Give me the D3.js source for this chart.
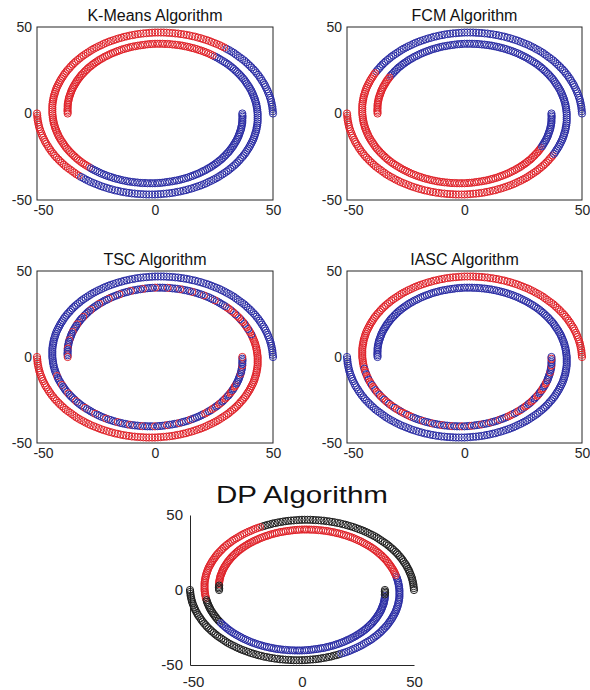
<!DOCTYPE html>
<html>
<head>
<meta charset="utf-8">
<script src="https://cdn.jsdelivr.net/npm/d3@7"></script>
<style>
  body { margin: 0; background: #fff; }
  text { font-family: "Liberation Sans", Arial, sans-serif; }
</style>
</head>
<body>
<svg id="fig" width="590" height="690"></svg>
<script>
// outer spiral starting at (50,0), turning counter-clockwise into the hook at (37,0)
const spiral1X = [
  50.0, 49.9, 49.8, 49.7, 49.5, 49.3, 49.1, 48.8, 48.5, 48.1, 47.8, 47.4, 46.9, 46.5, 46.0, 45.4, 44.9, 44.3, 43.7, 43.0,
  42.4, 41.7, 40.9, 40.2, 39.4, 38.6, 37.8, 36.9, 36.0, 35.1, 34.2, 33.3, 32.3, 31.3, 30.3, 29.3, 28.2, 27.2, 26.1, 25.0,
  23.9, 22.8, 21.7, 20.5, 19.4, 18.2, 17.0, 15.8, 14.6, 13.4, 12.2, 11.0, 9.8, 8.6, 7.4, 6.1, 4.9, 3.7, 2.5, 1.2, 0.0,
  -1.2, -2.4, -3.7, -4.9, -6.1, -7.3, -8.5, -9.6, -10.8, -12.0, -13.1, -14.2, -15.4, -16.5, -17.6, -18.7, -19.7, -20.8, -21.8, -22.8,
  -23.8, -24.8, -25.8, -26.7, -27.6, -28.5, -29.4, -30.3, -31.1, -31.9, -32.7, -33.5, -34.2, -34.9, -35.6, -36.2, -36.9, -37.5, -38.1, -38.6,
  -39.1, -39.6, -40.1, -40.5, -40.9, -41.3, -41.7, -42.0, -42.3, -42.5, -42.8, -43.0, -43.1, -43.3, -43.4, -43.5, -43.5, -43.5, -43.5, -43.5,
  -43.4, -43.3, -43.2, -43.0, -42.9, -42.6, -42.4, -42.1, -41.8, -41.5, -41.1, -40.8, -40.3, -39.9, -39.4, -38.9, -38.4, -37.9, -37.3, -36.7,
  -36.1, -35.5, -34.8, -34.1, -33.4, -32.7, -32.0, -31.2, -30.4, -29.6, -28.8, -27.9, -27.1, -26.2, -25.3, -24.4, -23.5, -22.6, -21.6, -20.7,
  -19.7, -18.7, -17.7, -16.7, -15.7, -14.7, -13.7, -12.6, -11.6, -10.6, -9.5, -8.5, -7.4, -6.3, -5.3, -4.2, -3.2, -2.1, -1.1, 0.0,
  1.1, 2.1, 3.1, 4.2, 5.2, 6.2, 7.3, 8.3, 9.3, 10.3, 11.3, 12.2, 13.2, 14.2, 15.1, 16.0, 16.9, 17.8, 18.7, 19.6,
  20.4, 21.3, 22.1, 22.9, 23.7, 24.4, 25.2, 25.9, 26.6, 27.3, 28.0, 28.6, 29.2, 29.8, 30.4, 31.0, 31.5, 32.0, 32.5, 33.0,
  33.4, 33.8, 34.2, 34.6, 34.9, 35.3, 35.5, 35.8, 36.0, 36.3, 36.5, 36.6, 36.8, 36.9, 37.0, 37.0, 37.0, 37.1, 37.0, 37.0
];
const spiral1Y = [
  0.0, 1.3, 2.6, 3.9, 5.2, 6.5, 7.8, 9.0, 10.3, 11.6, 12.8, 14.0, 15.3, 16.5, 17.6, 18.8, 20.0, 21.1, 22.3, 23.4,
  24.5, 25.5, 26.6, 27.6, 28.6, 29.6, 30.6, 31.5, 32.4, 33.3, 34.2, 35.1, 35.9, 36.7, 37.4, 38.2, 38.9, 39.6, 40.2, 40.8,
  41.4, 42.0, 42.5, 43.0, 43.5, 43.9, 44.4, 44.7, 45.1, 45.4, 45.7, 45.9, 46.2, 46.3, 46.5, 46.6, 46.7, 46.8, 46.8, 46.8, 46.8,
  46.7, 46.6, 46.4, 46.3, 46.1, 45.9, 45.6, 45.3, 45.0, 44.6, 44.3, 43.8, 43.4, 42.9, 42.4, 41.9, 41.4, 40.8, 40.2, 39.5,
  38.9, 38.2, 37.5, 36.8, 36.0, 35.2, 34.4, 33.6, 32.8, 31.9, 31.0, 30.1, 29.2, 28.3, 27.3, 26.3, 25.3, 24.3, 23.3, 22.3,
  21.2, 20.2, 19.1, 18.0, 17.0, 15.9, 14.8, 13.6, 12.5, 11.4, 10.3, 9.1, 8.0, 6.9, 5.7, 4.6, 3.4, 2.3, 1.1, 0.0,
  -1.1, -2.3, -3.4, -4.5, -5.6, -6.8, -7.9, -9.0, -10.0, -11.1, -12.2, -13.2, -14.3, -15.3, -16.3, -17.3, -18.3, -19.3, -20.3, -21.2,
  -22.1, -23.0, -23.9, -24.8, -25.7, -26.5, -27.3, -28.1, -28.9, -29.6, -30.3, -31.0, -31.7, -32.4, -33.0, -33.6, -34.2, -34.8, -35.3, -35.8,
  -36.3, -36.7, -37.2, -37.6, -37.9, -38.3, -38.6, -38.9, -39.2, -39.4, -39.6, -39.8, -39.9, -40.1, -40.2, -40.2, -40.3, -40.3, -40.3, -40.3,
  -40.2, -40.1, -40.0, -39.8, -39.6, -39.4, -39.2, -38.9, -38.7, -38.4, -38.0, -37.7, -37.3, -36.9, -36.4, -36.0, -35.5, -35.0, -34.5, -33.9,
  -33.3, -32.8, -32.1, -31.5, -30.9, -30.2, -29.5, -28.8, -28.1, -27.3, -26.6, -25.8, -25.0, -24.2, -23.3, -22.5, -21.7, -20.8, -19.9, -19.0,
  -18.1, -17.2, -16.3, -15.4, -14.5, -13.5, -12.6, -11.6, -10.7, -9.7, -8.8, -7.8, -6.8, -5.8, -4.9, -3.9, -2.9, -1.9, -1.0, 0.0
];
// second spiral starting at (-50,0), ending in the hook at (-37,0)
const spiral2X = [
  -50.0, -49.9, -49.8, -49.7, -49.5, -49.3, -49.1, -48.8, -48.5, -48.1, -47.8, -47.4, -46.9, -46.5, -46.0, -45.4, -44.9, -44.3, -43.7, -43.0,
  -42.4, -41.7, -40.9, -40.2, -39.4, -38.6, -37.8, -36.9, -36.0, -35.1, -34.2, -33.3, -32.3, -31.3, -30.3, -29.3, -28.2, -27.2, -26.1, -25.0,
  -23.9, -22.8, -21.7, -20.5, -19.4, -18.2, -17.0, -15.8, -14.6, -13.4, -12.2, -11.0, -9.8, -8.6, -7.4, -6.1, -4.9, -3.7, -2.5, -1.2, 0.0,
  1.2, 2.4, 3.7, 4.9, 6.1, 7.3, 8.5, 9.6, 10.8, 12.0, 13.1, 14.2, 15.4, 16.5, 17.6, 18.7, 19.7, 20.8, 21.8, 22.8,
  23.8, 24.8, 25.8, 26.7, 27.6, 28.5, 29.4, 30.3, 31.1, 31.9, 32.7, 33.5, 34.2, 34.9, 35.6, 36.2, 36.9, 37.5, 38.1, 38.6,
  39.1, 39.6, 40.1, 40.5, 40.9, 41.3, 41.7, 42.0, 42.3, 42.5, 42.8, 43.0, 43.1, 43.3, 43.4, 43.5, 43.5, 43.5, 43.5, 43.5,
  43.4, 43.3, 43.2, 43.0, 42.9, 42.6, 42.4, 42.1, 41.8, 41.5, 41.1, 40.8, 40.3, 39.9, 39.4, 38.9, 38.4, 37.9, 37.3, 36.7,
  36.1, 35.5, 34.8, 34.1, 33.4, 32.7, 32.0, 31.2, 30.4, 29.6, 28.8, 27.9, 27.1, 26.2, 25.3, 24.4, 23.5, 22.6, 21.6, 20.7,
  19.7, 18.7, 17.7, 16.7, 15.7, 14.7, 13.7, 12.6, 11.6, 10.6, 9.5, 8.5, 7.4, 6.3, 5.3, 4.2, 3.2, 2.1, 1.1, 0.0,
  -1.1, -2.1, -3.1, -4.2, -5.2, -6.2, -7.3, -8.3, -9.3, -10.3, -11.3, -12.2, -13.2, -14.2, -15.1, -16.0, -16.9, -17.8, -18.7, -19.6,
  -20.4, -21.3, -22.1, -22.9, -23.7, -24.4, -25.2, -25.9, -26.6, -27.3, -28.0, -28.6, -29.2, -29.8, -30.4, -31.0, -31.5, -32.0, -32.5, -33.0,
  -33.4, -33.8, -34.2, -34.6, -34.9, -35.3, -35.5, -35.8, -36.0, -36.3, -36.5, -36.6, -36.8, -36.9, -37.0, -37.0, -37.0, -37.1, -37.0, -37.0
];
const spiral2Y = [
  0.0, -1.3, -2.6, -3.9, -5.2, -6.5, -7.8, -9.0, -10.3, -11.6, -12.8, -14.0, -15.3, -16.5, -17.6, -18.8, -20.0, -21.1, -22.3, -23.4,
  -24.5, -25.5, -26.6, -27.6, -28.6, -29.6, -30.6, -31.5, -32.4, -33.3, -34.2, -35.1, -35.9, -36.7, -37.4, -38.2, -38.9, -39.6, -40.2, -40.8,
  -41.4, -42.0, -42.5, -43.0, -43.5, -43.9, -44.4, -44.7, -45.1, -45.4, -45.7, -45.9, -46.2, -46.3, -46.5, -46.6, -46.7, -46.8, -46.8, -46.8, -46.8,
  -46.7, -46.6, -46.4, -46.3, -46.1, -45.9, -45.6, -45.3, -45.0, -44.6, -44.3, -43.8, -43.4, -42.9, -42.4, -41.9, -41.4, -40.8, -40.2, -39.5,
  -38.9, -38.2, -37.5, -36.8, -36.0, -35.2, -34.4, -33.6, -32.8, -31.9, -31.0, -30.1, -29.2, -28.3, -27.3, -26.3, -25.3, -24.3, -23.3, -22.3,
  -21.2, -20.2, -19.1, -18.0, -17.0, -15.9, -14.8, -13.6, -12.5, -11.4, -10.3, -9.1, -8.0, -6.9, -5.7, -4.6, -3.4, -2.3, -1.1, 0.0,
  1.1, 2.3, 3.4, 4.5, 5.6, 6.8, 7.9, 9.0, 10.0, 11.1, 12.2, 13.2, 14.3, 15.3, 16.3, 17.3, 18.3, 19.3, 20.3, 21.2,
  22.1, 23.0, 23.9, 24.8, 25.7, 26.5, 27.3, 28.1, 28.9, 29.6, 30.3, 31.0, 31.7, 32.4, 33.0, 33.6, 34.2, 34.8, 35.3, 35.8,
  36.3, 36.7, 37.2, 37.6, 37.9, 38.3, 38.6, 38.9, 39.2, 39.4, 39.6, 39.8, 39.9, 40.1, 40.2, 40.2, 40.3, 40.3, 40.3, 40.3,
  40.2, 40.1, 40.0, 39.8, 39.6, 39.4, 39.2, 38.9, 38.7, 38.4, 38.0, 37.7, 37.3, 36.9, 36.4, 36.0, 35.5, 35.0, 34.5, 33.9,
  33.3, 32.8, 32.1, 31.5, 30.9, 30.2, 29.5, 28.8, 28.1, 27.3, 26.6, 25.8, 25.0, 24.2, 23.3, 22.5, 21.7, 20.8, 19.9, 19.0,
  18.1, 17.2, 16.3, 15.4, 14.5, 13.5, 12.6, 11.6, 10.7, 9.7, 8.8, 7.8, 6.8, 5.8, 4.9, 3.9, 2.9, 1.9, 1.0, 0.0
];

const titles = ["K-Means Algorithm", "FCM Algorithm", "TSC Algorithm", "IASC Algorithm", "DP Algorithm"];
const xTicks = [-50, 0, 50];
const yTicks = [-50, 0, 50];

// cluster labels along each spiral, as [count, pattern] runs (pattern repeats over the run)
const kmeansS1 = [[35, "b"], [118, "r"], [88, "b"]];
const kmeansS2 = [[33, "r"], [123, "b"], [85, "r"]];
const fcmS1 = [[99, "b"], [121, "r"], [21, "b"]];
const fcmS2 = [[99, "r"], [119, "b"], [23, "r"]];
const tscS1 = [[126, "b"], [74, "bbbbr"], [26, "bbrr"], [15, "bbbbr"]];
const tscS2 = [[130, "r"], [21, "rrb"], [90, "bbbbr"]];
const iascS1 = [[124, "r"], [36, "rrb"], [40, "bbbr"], [28, "rrbb"], [13, "bbbr"]];
const iascS2 = [[241, "b"]];
const dpS1 = [[76, "k"], [50, "r"], [15, "k"], [96, "b"], [4, "k"]];
const dpS2 = [[75, "k"], [54, "b"], [108, "r"], [4, "k"]];

const labelSets = [
  [kmeansS1, kmeansS2], [fcmS1, fcmS2], [tscS1, tscS2], [iascS1, iascS2], [dpS1, dpS2]
];

const colors = { r: "#e02229", b: "#2b2da4", k: "#1e1e1e" };

// panel boxes in pixels
const layout = [
  { x0: 37, x1: 273, y0: 27, y1: 200, box: true },
  { x0: 347, x1: 582, y0: 27, y1: 200, box: true },
  { x0: 37, x1: 273, y0: 271, y1: 443, box: true },
  { x0: 347, x1: 582, y0: 271, y1: 443, box: true },
  { x0: 190, x1: 414, y0: 515, y1: 665, box: false }
];

const expand = (runs) => {
  const out = [];
  runs.forEach(([n, pat]) => {
    for (let i = 0; i < n; i++) out.push(pat[i % pat.length]);
  });
  return out;
};

const svg = d3.select("#fig");
const axisColor = "#262626";

layout.forEach((p, i) => {
  const g = svg.append("g");
  const big = !p.box;

  const x = d3.scaleLinear().domain([-50, 50]).range([p.x0, p.x1]);
  const y = d3.scaleLinear().domain([-50, 50]).range([p.y1, p.y0]);

  const lab1 = expand(labelSets[i][0]);
  const lab2 = expand(labelSets[i][1]);
  const pts = [];
  spiral1X.forEach((v, k) => pts.push({ x: v, y: spiral1Y[k], c: lab1[k] || "b" }));
  spiral2X.forEach((v, k) => pts.push({ x: v, y: spiral2Y[k], c: lab2[k] || "r" }));

  // axes
  const xAxis = d3.axisBottom(x).tickValues(xTicks).tickSize(0).tickSizeOuter(0)
    .tickPadding(big ? 11 : 5).tickFormat(d => String(d));
  const yAxis = d3.axisLeft(y).tickValues(yTicks).tickSize(0).tickSizeOuter(0)
    .tickPadding(big ? 7 : 5).tickFormat(d => String(d));

  const gx = g.append("g").attr("transform", `translate(0,${p.y1})`).call(xAxis);
  const gy = g.append("g").attr("transform", `translate(${p.x0},0)`).call(yAxis);
  [gx, gy].forEach(a => {
    a.selectAll("text").attr("fill", axisColor).style("font-size", big ? "15px" : "14px")
      .style("font-family", '"Liberation Sans", Arial, sans-serif');
    a.select(".domain").attr("stroke", axisColor).attr("stroke-width", 1);
    if (p.box) a.select(".domain").remove();
  });
  // the leftmost x label sits a little right of its tick, as in the source figure
  gx.selectAll(".tick text").filter(d => d === -50).attr("dx", big ? 3 : 6);

  if (p.box) {
    g.append("rect")
      .attr("x", p.x0).attr("y", p.y0)
      .attr("width", p.x1 - p.x0).attr("height", p.y1 - p.y0)
      .attr("fill", "none").attr("stroke", axisColor).attr("stroke-width", 1);
  }

  // points
  g.append("g").selectAll("circle").data(pts).join("circle")
    .attr("cx", d => x(d.x))
    .attr("cy", d => y(d.y))
    .attr("r", 3.6)
    .attr("fill", "none")
    .attr("stroke", d => colors[d.c])
    .attr("stroke-width", 1);

  // title
  const t = g.append("text")
    .attr("x", (p.x0 + p.x1) / 2)
    .attr("y", big ? p.y0 - 12 : p.y0 - 6.5)
    .attr("text-anchor", "middle")
    .attr("fill", "#111")
    .style("font-size", big ? "24px" : "16px")
    .text(titles[i]);
  if (big) t.attr("textLength", 172).attr("lengthAdjust", "spacingAndGlyphs");
});
</script>
</body>
</html>
